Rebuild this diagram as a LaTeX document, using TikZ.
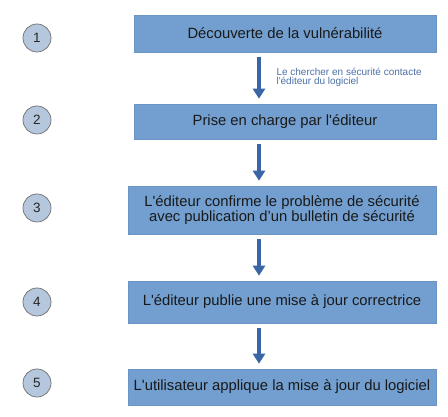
\documentclass[tikz,border=0pt]{standalone}
\usepackage{fontspec}
\setmainfont{Liberation Sans}
\usetikzlibrary{arrows.meta,calc}
\definecolor{boxblue}{HTML}{729FCF}
\definecolor{boxedge}{HTML}{6A94C4}
\definecolor{circfill}{HTML}{B4C7DC}
\definecolor{circedge}{HTML}{6E6E6E}
\definecolor{arrowblue}{HTML}{3A66A6}
\definecolor{labelblue}{HTML}{4A6FA5}
\newcommand{\sq}{\textquotesingle}
\tikzset{
  stepbox/.style={draw=boxedge, line width=0.6pt, fill=boxblue, minimum width=302pt, inner sep=0pt, align=center, font=\fontsize{14.8}{15.5}\selectfont, text=black!90},
  numcirc/.style={circle, draw=circedge, line width=0.7pt, fill=circfill, minimum size=28pt, inner sep=0pt, font=\fontsize{13.5}{14}\selectfont, text=black!85},
  flow/.style={draw=arrowblue, line width=3.2pt, -{Triangle[width=12pt,length=10pt]}, shorten <=5pt, shorten >=5pt},
  note/.style={anchor=west, align=left, text=labelblue, font=\fontsize{10}{9}\selectfont}
}
\begin{document}
\begin{tikzpicture}[x=1pt,y=-1pt]
\useasboundingbox (0,0) rectangle (448,417);
\node[stepbox, minimum height=37pt] (b1) at (285,33.5) {Découverte de la vulnérabilité};
\node[stepbox, minimum height=35pt] (b2) at (285,121.5) {Prise en charge par l\sq éditeur};
\node[stepbox, minimum width=308pt, minimum height=48pt] (b3) at (282,210) {L\sq éditeur confirme le problème de sécurité\\avec publication d’un bulletin de sécurité};
\node[stepbox, minimum width=308pt, minimum height=42pt] (b4) at (282,302) {L\sq éditeur publie une mise à jour correctrice};
\node[stepbox, minimum width=308pt, minimum height=36pt] (b5) at (282,387) {L\sq utilisateur applique la mise à jour du logiciel};
\node[numcirc] (c1) at (37,38) {1};
\node[numcirc] (c2) at (37,120) {2};
\node[numcirc] (c3) at (37,208) {3};
\node[numcirc] (c4) at (37,302) {4};
\node[numcirc] (c5) at (37,383) {5};
\coordinate (ax) at (259,0);
\draw[flow] (b1.south -| ax) -- (b2.north -| ax);
\draw[flow] (b2.south -| ax) -- (b3.north -| ax);
\draw[flow] (b3.south -| ax) -- (b4.north -| ax);
\draw[flow] (b4.south -| ax) -- (b5.north -| ax);
\node[note] (lab) at (273,77) {Le chercher en sécurité contacte\\l\sq éditeur du logiciel};
\end{tikzpicture}
\end{document}
